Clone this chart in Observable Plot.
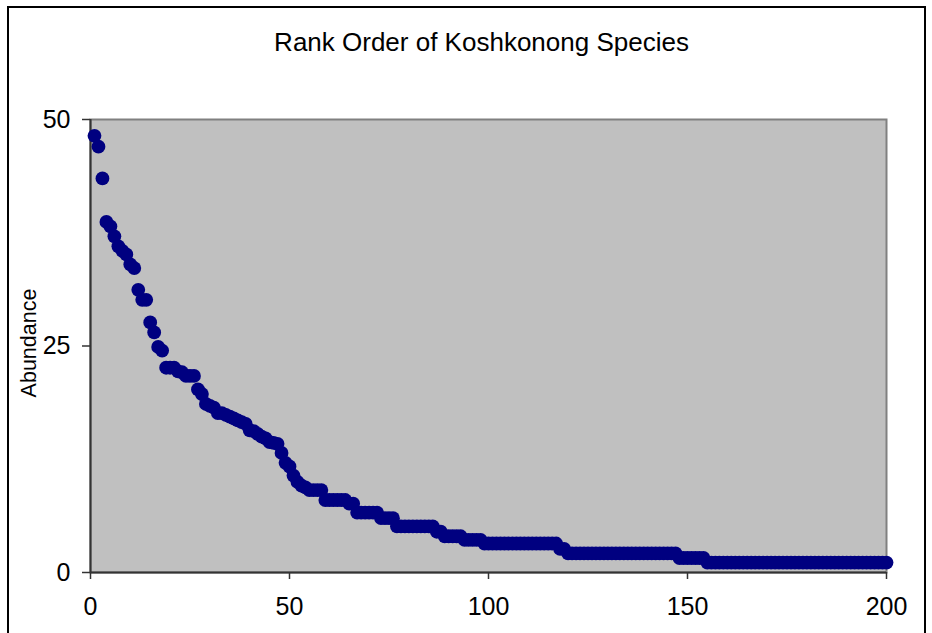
<!DOCTYPE html>
<html><head><meta charset="utf-8">
<script src="https://cdn.jsdelivr.net/npm/d3@7"></script>
<script src="https://cdn.jsdelivr.net/npm/@observablehq/plot@0.6"></script>
<style>
html,body{margin:0;padding:0;background:#fff;}
#wrap{position:relative;width:932px;height:633px;overflow:hidden;}
#border{position:absolute;left:7px;top:6px;width:919px;height:660px;border:2px solid #000;box-sizing:border-box;pointer-events:none;}
</style></head><body><div id="wrap"><div id="border"></div></div>
<script>
const title = "Rank Order of Koshkonong Species";
const yLabel = "Abundance";
const abundance = [
  48.2, 47.0, 43.5, 38.7, 38.2, 37.1, 36.0, 35.5, 35.1, 34.0, 33.6, 31.2, 30.1, 30.1, 27.6, 26.5, 24.9, 24.5, 22.6, 22.6,
  22.6, 22.2, 22.1, 21.7, 21.7, 21.7, 20.2, 19.7, 18.6, 18.4, 18.2, 17.6, 17.6, 17.4, 17.2, 17.0, 16.8, 16.6, 16.4, 15.7,
  15.6, 15.3, 15.0, 14.8, 14.4, 14.3, 14.2, 13.2, 12.1, 11.7, 10.7, 10.0, 9.6, 9.4, 9.1, 9.1, 9.1, 9.1, 8.0, 8.0,
  8.0, 8.0, 8.0, 8.0, 7.6, 7.6, 6.6, 6.6, 6.6, 6.6, 6.6, 6.6, 6.0, 6.0, 6.0, 6.0, 5.1, 5.1, 5.1, 5.1,
  5.1, 5.1, 5.1, 5.1, 5.1, 5.1, 4.5, 4.5, 4.0, 4.0, 4.0, 4.0, 4.0, 3.6, 3.6, 3.6, 3.6, 3.6, 3.2, 3.2,
  3.2, 3.2, 3.2, 3.2, 3.2, 3.2, 3.2, 3.2, 3.2, 3.2, 3.2, 3.2, 3.2, 3.2, 3.2, 3.2, 3.2, 2.6, 2.6, 2.1,
  2.1, 2.1, 2.1, 2.1, 2.1, 2.1, 2.1, 2.1, 2.1, 2.1, 2.1, 2.1, 2.1, 2.1, 2.1, 2.1, 2.1, 2.1, 2.1, 2.1,
  2.1, 2.1, 2.1, 2.1, 2.1, 2.1, 2.1, 1.6, 1.6, 1.6, 1.6, 1.6, 1.6, 1.6, 1.1, 1.1, 1.1, 1.1, 1.1, 1.1,
  1.1, 1.1, 1.1, 1.1, 1.1, 1.1, 1.1, 1.1, 1.1, 1.1, 1.1, 1.1, 1.1, 1.1, 1.1, 1.1, 1.1, 1.1, 1.1, 1.1,
  1.1, 1.1, 1.1, 1.1, 1.1, 1.1, 1.1, 1.1, 1.1, 1.1, 1.1, 1.1, 1.1, 1.1, 1.1, 1.1, 1.1, 1.1, 1.1, 1.1
];
const xTicks = [0, 50, 100, 150, 200];
const yTicks = [0, 25, 50];
const data = abundance.map((v, i) => ({rank: i + 1, abundance: v}));

const chart = Plot.plot({
  width: 932, height: 633,
  marginLeft: 90, marginRight: 46, marginTop: 119, marginBottom: 61,
  style: {fontFamily: "Arial, 'Liberation Sans', sans-serif", background: "transparent", overflow: "visible", color: "#000"},
  x: {domain: [0, 200]},
  y: {domain: [0, 50]},
  marks: [
    Plot.frame({fill: "#c0c0c0", stroke: "#808080", strokeWidth: 2}),
    Plot.axisX({ticks: xTicks, tickSize: 7, tickPadding: 18, tickFormat: d => d, label: null, fontSize: 25, stroke: "#333", strokeWidth: 1.5}),
    Plot.axisY({ticks: yTicks, tickSize: 8, tickPadding: 12, tickFormat: d => d, label: null, fontSize: 25, stroke: "#333", strokeWidth: 1.5}),
    Plot.ruleY([0], {stroke: "#333", strokeWidth: 2}),
    Plot.ruleX([0], {stroke: "#333", strokeWidth: 2}),
    Plot.dot(data, {x: "rank", y: "abundance", r: 6.9, fill: "#000080", stroke: null}),
    Plot.text([title], {frameAnchor: "top", lineAnchor: "middle", dy: -77, dx: -7, fontSize: 26, fill: "#000", text: d => d}),
    Plot.text([yLabel], {frameAnchor: "left", textAnchor: "middle", lineAnchor: "middle", dx: -61, dy: -3, rotate: -90, fontSize: 21.5, fill: "#000", text: d => d})
  ]
});
document.getElementById("wrap").appendChild(chart);
</script>
</body></html>
